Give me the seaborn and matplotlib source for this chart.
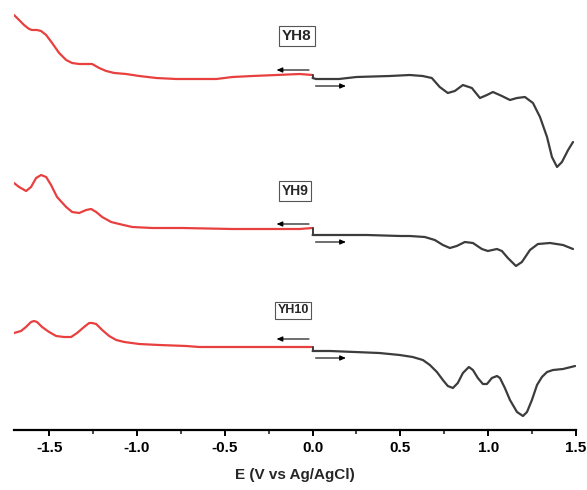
import numpy as np
import pandas as pd
import matplotlib
matplotlib.use("Agg")
import matplotlib.pyplot as plt
import seaborn as sns

# ---- data (E in V vs Ag/AgCl, current in arbitrary stacked units) ----
yh8_red_E = [-1.700, -1.671, -1.643, -1.614, -1.597, -1.569, -1.546, -1.517, -1.483, -1.443,
             -1.403, -1.369, -1.329, -1.284, -1.255, -1.215, -1.175, -1.129, -1.061, -0.987,
             -0.890, -0.776, -0.645, -0.548, -0.456, -0.342, -0.205, -0.074, 0.0]
yh8_red_I = [415, 410, 405, 401, 400, 400, 399, 395, 387, 377,
             370, 367, 366, 366, 366, 362, 359, 357, 356, 354,
             352, 351, 351, 351, 353, 354, 355, 356, 355]
yh8_gray_E = [0.0, 0.02, 0.15, 0.25, 0.44, 0.553, 0.627, 0.679, 0.724, 0.770, 0.810, 0.856,
              0.907, 0.953, 0.993, 1.027, 1.078, 1.124, 1.164, 1.209, 1.255, 1.295, 1.335,
              1.363, 1.392, 1.420, 1.455, 1.483]
yh8_gray_I = [352, 351, 351, 353, 354, 355, 354, 352, 343, 337, 339, 345,
              342, 332, 335, 338, 334, 330, 332, 333, 327, 313, 293,
              273, 263, 268, 280, 288]

yh9_red_E = [-1.700, -1.671, -1.631, -1.603, -1.574, -1.546, -1.517, -1.489, -1.455, -1.403,
             -1.369, -1.329, -1.289, -1.261, -1.232, -1.198, -1.147, -1.101, -1.027, -0.913,
             -0.742, -0.456, -0.074, 0.0]
yh9_red_I = [247, 243, 239, 243, 252, 255, 253, 245, 233, 223,
             218, 217, 220, 221, 218, 213, 208, 206, 203, 202,
             202, 201, 201, 202]
yh9_gray_E = [0.0, 0.06, 0.31, 0.50, 0.553, 0.639, 0.696, 0.742, 0.782, 0.821, 0.867, 0.913,
              0.964, 0.998, 1.050, 1.078, 1.112, 1.158, 1.192, 1.238, 1.283, 1.352, 1.426, 1.483]
yh9_gray_I = [195, 195, 195, 194, 194, 193, 190, 185, 182, 184, 188, 187,
              181, 179, 181, 179, 172, 164, 168, 180, 186, 187, 185, 181]

yh10_red_E = [-1.700, -1.660, -1.632, -1.603, -1.586, -1.569, -1.540, -1.500, -1.460, -1.415,
              -1.375, -1.341, -1.301, -1.272, -1.255, -1.232, -1.198, -1.158, -1.118, -1.072,
              -0.987, -0.873, -0.719, -0.645, -0.473, 0.0]
yh10_red_I = [97, 99, 103, 108, 109, 108, 103, 98, 94, 93,
              93, 97, 103, 107, 107, 106, 100, 94, 90, 88,
              86, 85, 84, 83, 83, 83]
yh10_gray_E = [0.0, 0.10, 0.38, 0.496, 0.570, 0.628, 0.668, 0.708, 0.742, 0.770, 0.799, 0.827,
               0.856, 0.890, 0.913, 0.941, 0.970, 0.993, 1.021, 1.050, 1.067, 1.095, 1.124,
               1.164, 1.198, 1.221, 1.249, 1.278, 1.306, 1.335, 1.369, 1.426, 1.495]
yh10_gray_I = [79, 79, 77, 75, 73, 70, 65, 58, 50, 44, 42, 47,
               57, 63, 60, 52, 46, 46, 52, 54, 52, 42, 30,
               18, 14, 18, 30, 45, 53, 58, 60, 61, 64]

labels = ["YH8", "YH9", "YH10"]
label_E = [-0.09, -0.10, -0.11]
label_I = [394, 239, 120]
label_size = [11, 10, 9]

# arrows: (left arrow level, right arrow level)
arrow_left_I = [360, 206, 91]
arrow_right_I = [344, 188, 72]

RED = "#e8403f"
GRAY = "#3c3c3c"

sns.set_style("white")
plt.rcParams["font.family"] = ["Liberation Sans", "DejaVu Sans"]

fig = plt.figure(figsize=(5.87, 4.90), dpi=100)
ax = fig.add_axes([14 / 587, 60 / 490, 562 / 587, 430 / 490])

segments = [
    (yh8_red_E, yh8_red_I, RED), (yh8_gray_E, yh8_gray_I, GRAY),
    (yh9_red_E, yh9_red_I, RED), (yh9_gray_E, yh9_gray_I, GRAY),
    (yh10_red_E, yh10_red_I, RED), (yh10_gray_E, yh10_gray_I, GRAY),
]
for E, I, c in segments:
    df = pd.DataFrame({"E": E, "I": I})
    sns.lineplot(data=df, x="E", y="I", sort=False, estimator=None, color=c,
                 lw=1.6, ax=ax, solid_joinstyle="round", solid_capstyle="round")

# vertical steps at 0 V
for red_I, gray_I in [(yh8_red_I, yh8_gray_I), (yh9_red_I, yh9_gray_I), (yh10_red_I, yh10_gray_I)]:
    ax.plot([0.0, 0.0], [red_I[-1], gray_I[0]], color=GRAY, lw=1.4)

for lab, xe, yi, fs in zip(labels, label_E, label_I, label_size):
    ax.text(xe, yi, lab, ha="center", va="center", fontsize=fs, fontweight="bold",
            bbox=dict(boxstyle="square,pad=0.2", fc="white", ec="#555555", lw=0.8))

for yl, yr in zip(arrow_left_I, arrow_right_I):
    ax.annotate("", xy=(-0.205, yl), xytext=(-0.02, yl),
                arrowprops=dict(arrowstyle="-|>,head_length=0.35,head_width=0.15",
                                color="black", lw=0.8, shrinkA=0, shrinkB=0))
    ax.annotate("", xy=(0.19, yr), xytext=(0.017, yr),
                arrowprops=dict(arrowstyle="-|>,head_length=0.35,head_width=0.15",
                                color="black", lw=0.8, shrinkA=0, shrinkB=0))

ax.set_xlim(-1.7, 1.5)
ax.set_ylim(0, 430)
ax.set_xticks([-1.5, -1.0, -0.5, 0.0, 0.5, 1.0, 1.5])
ax.set_xticklabels(["-1.5", "-1.0", "-0.5", "0.0", "0.5", "1.0", "1.5"])
ax.set_xticks(np.arange(-1.5, 1.51, 0.25), minor=True)
ax.set_yticks([])
ax.set_ylabel("")
ax.set_xlabel("E (V vs Ag/AgCl)", fontsize=11, fontweight="bold", labelpad=9)
for s in ["left", "top", "right"]:
    ax.spines[s].set_visible(False)
ax.spines["bottom"].set_linewidth(1.6)
ax.spines["bottom"].set_color("black")
ax.tick_params(axis="x", which="major", direction="out", length=4, width=1.4,
               labelsize=11, pad=4, bottom=True, colors="black")
ax.tick_params(axis="x", which="minor", direction="out", length=3, width=1.2, bottom=True)
for t in ax.get_xticklabels():
    t.set_fontweight("bold")
ax.grid(False)

fig.savefig("out.png", dpi=100)
